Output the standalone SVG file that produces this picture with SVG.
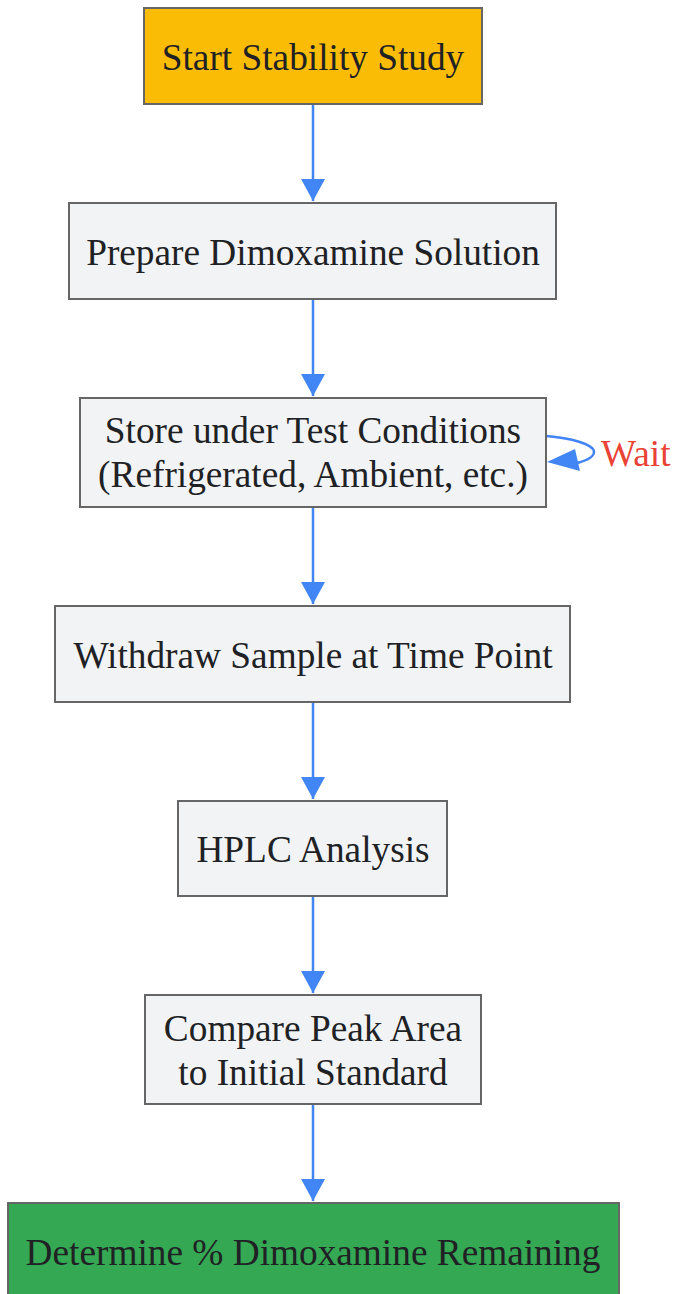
<svg xmlns="http://www.w3.org/2000/svg" width="676" height="1294" viewBox="0 0 676 1294">
<defs>
<style>
.n rect{stroke:#666666;stroke-width:2}
.g rect{fill:#F1F3F4}
.t{font-family:"Liberation Serif","Times New Roman",serif;font-size:37.3px;fill:#202124;text-anchor:middle}
.e{stroke:#4285F4;stroke-width:2.5;fill:none}
</style>
<marker id="a" viewBox="0 0 22 24" refX="22" refY="12" markerWidth="22" markerHeight="24" markerUnits="userSpaceOnUse" orient="auto">
<path d="M0,0 L22,12 L0,24 z" fill="#4285F4"/>
</marker>
</defs>
<rect width="676" height="1294" fill="#ffffff"/>
<g id="connectors">
<path class="e" d="M313,104 V201" marker-end="url(#a)"/>
<path class="e" d="M313,299 V396" marker-end="url(#a)"/>
<path class="e" d="M313,507 V604" marker-end="url(#a)"/>
<path class="e" d="M313,702 V799" marker-end="url(#a)"/>
<path class="e" d="M313,896 V993" marker-end="url(#a)"/>
<path class="e" d="M313,1104 V1201" marker-end="url(#a)"/>
<path class="e" d="M546,436 C570,438 594,444 594,452 C594,458 584,462 568,465" />
<path d="M547,462 L575,449 L580,471 z" fill="#4285F4"/>
<text x="601" y="466" style="font-family:'Liberation Serif','Times New Roman',serif;font-size:37.3px;fill:#EA4335">Wait</text>
</g>
<g id="start" class="n"><rect x="144" y="8" width="338" height="96" fill="#FBBC05"/><text class="t" x="313" y="70">Start Stability Study</text></g>
<g id="prepare" class="n g"><rect x="69" y="203" width="487" height="96"/><text class="t" x="313" y="265">Prepare Dimoxamine Solution</text></g>
<g id="store" class="n g"><rect x="80" y="398" width="466" height="109"/><text class="t" x="313" y="443">Store under Test Conditions</text><text class="t" x="313" y="487">(Refrigerated, Ambient, etc.)</text></g>
<g id="withdraw" class="n g"><rect x="55" y="606" width="515" height="96"/><text class="t" x="313" y="668">Withdraw Sample at Time Point</text></g>
<g id="hplc" class="n g"><rect x="178" y="801" width="269" height="95"/><text class="t" x="313" y="862">HPLC Analysis</text></g>
<g id="compare" class="n g"><rect x="145" y="995" width="336" height="109"/><text class="t" x="313" y="1041">Compare Peak Area</text><text class="t" x="313" y="1085">to Initial Standard</text></g>
<g id="determine" class="n"><rect x="8" y="1203" width="611" height="100" fill="#34A853"/><text class="t" x="313" y="1265">Determine % Dimoxamine Remaining</text></g>
</svg>
